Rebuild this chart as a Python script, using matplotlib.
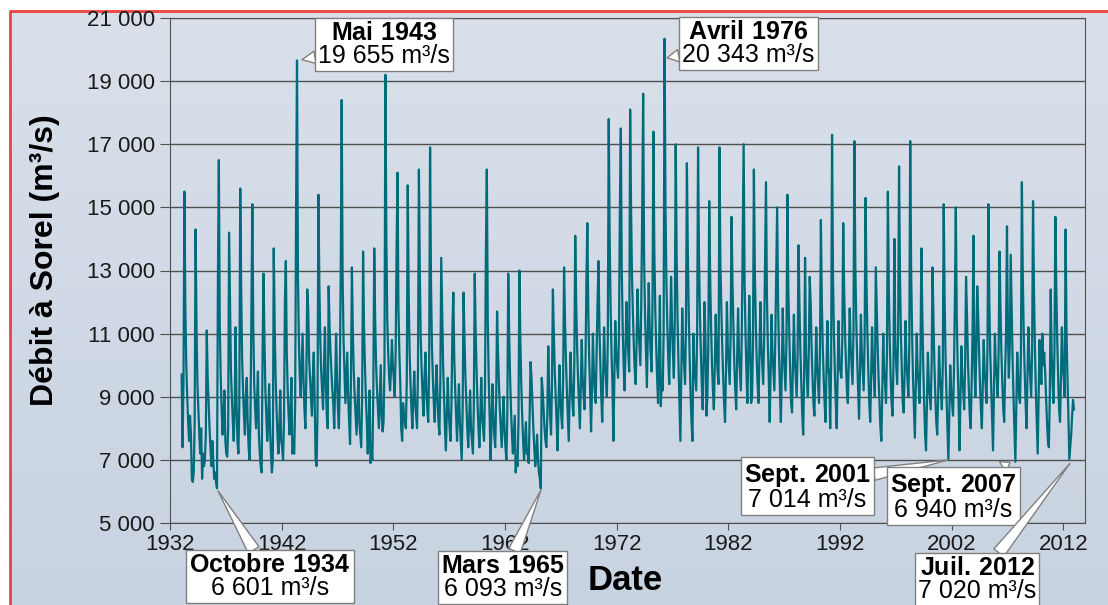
import numpy as np
import matplotlib.pyplot as plt
from matplotlib.colors import LinearSegmentedColormap
from matplotlib.ticker import FuncFormatter

# Monthly flow at Sorel, in hundreds of m3/s (Jan..Dec), one row per year
first_year = 1933
flow_1930s = [  # 1933-1939
    [97, 74, 95, 155, 118, 100, 90, 82, 76, 84, 78, 64],
    [63, 66, 82, 143, 112, 94, 86, 78, 72, 80, 64, 72],
    [68, 70, 78, 111, 96, 88, 80, 74, 68, 76, 70, 64],
    [66, 63, 61, 128, 165, 112, 96, 86, 78, 84, 92, 76],
    [72, 71, 80, 142, 120, 98, 90, 82, 76, 86, 112, 88],
    [76, 72, 88, 156, 124, 102, 92, 84, 78, 90, 96, 82],
    [74, 70, 84, 118, 151, 112, 94, 86, 80, 88, 98, 78],
]
flow_1940s = [
    [72, 68, 66, 104, 129, 108, 92, 84, 76, 82, 94, 80],
    [72, 66, 70, 137, 112, 96, 86, 78, 72, 80, 92, 76],
    [74, 70, 82, 120, 133, 104, 92, 84, 78, 86, 96, 72],
    [74, 72, 88, 150, 196.55, 128, 108, 96, 90, 100, 110, 96],
    [86, 80, 96, 124, 118, 102, 96, 90, 84, 96, 104, 88],
    [70, 68, 84, 154, 126, 108, 98, 92, 86, 100, 112, 94],
    [84, 80, 125, 112, 104, 98, 92, 88, 80, 94, 110, 96],
    [86, 80, 96, 130, 184, 128, 108, 98, 88, 96, 104, 90],
    [82, 75, 96, 131, 110, 98, 90, 84, 78, 88, 96, 82],
    [78, 74, 90, 136, 112, 100, 90, 82, 72, 80, 92, 69],
]
flow_1950s = [
    [72, 70, 92, 137, 114, 100, 92, 86, 80, 90, 100, 84],
    [79, 82, 100, 192, 140, 114, 104, 96, 92, 98, 108, 100],
    [96, 90, 104, 136, 161, 118, 104, 94, 80, 76, 88, 84],
    [82, 80, 96, 157, 122, 104, 94, 86, 80, 90, 98, 88],
    [84, 80, 98, 162, 128, 108, 98, 90, 84, 96, 104, 92],
    [86, 82, 100, 169, 126, 106, 96, 88, 82, 92, 100, 90],
    [82, 78, 94, 134, 116, 100, 90, 80, 73, 84, 96, 86],
    [80, 76, 88, 112, 123, 102, 92, 84, 76, 86, 94, 82],
    [76, 70, 86, 123, 108, 96, 88, 80, 74, 82, 92, 80],
    [76, 72, 86, 129, 110, 98, 88, 80, 74, 84, 96, 84],
]
flow_1960s = [
    [80, 76, 92, 136, 162, 114, 96, 84, 70, 80, 94, 84],
    [78, 74, 88, 117, 104, 94, 86, 80, 74, 82, 90, 80],
    [74, 70, 84, 129, 110, 96, 86, 78, 72, 78, 84, 66],
    [70, 68, 82, 130, 108, 94, 84, 76, 70, 76, 82, 72],
    [72, 69, 84, 101, 96, 88, 80, 74, 68, 72, 78, 70],
    [66, 64, 60.93, 96, 92, 86, 80, 76, 74, 84, 106, 92],
    [84, 78, 94, 124, 110, 98, 90, 82, 73, 86, 100, 90],
    [84, 80, 96, 131, 114, 102, 92, 84, 76, 90, 104, 94],
    [88, 84, 100, 141, 120, 106, 96, 88, 80, 94, 108, 96],
    [90, 86, 100, 126, 145, 118, 102, 92, 79, 92, 110, 98],
]
flow_1970s = [
    [92, 88, 104, 120, 133, 112, 100, 90, 82, 96, 112, 100],
    [96, 90, 108, 178, 140, 118, 104, 94, 76, 96, 114, 104],
    [100, 96, 110, 150, 175, 130, 112, 100, 92, 104, 120, 110],
    [104, 98, 181, 150, 128, 116, 106, 98, 94, 108, 124, 112],
    [106, 100, 120, 150, 186, 134, 116, 104, 93, 110, 126, 112],
    [104, 98, 118, 174, 136, 118, 106, 96, 88, 104, 122, 87],
    [96, 92, 110, 203.43, 150, 126, 112, 102, 94, 110, 128, 114],
    [104, 96, 114, 170, 134, 114, 100, 88, 76, 96, 118, 106],
    [100, 94, 112, 164, 136, 116, 102, 90, 82, 76, 110, 100],
    [96, 92, 110, 169, 134, 116, 104, 94, 86, 102, 120, 108],
]
flow_1980s = [
    [84, 90, 106, 152, 128, 112, 100, 92, 86, 100, 116, 104],
    [98, 94, 169, 132, 118, 106, 96, 88, 82, 98, 120, 106],
    [100, 94, 110, 147, 126, 112, 100, 92, 86, 102, 118, 104],
    [98, 92, 110, 140, 170, 126, 110, 98, 88, 104, 122, 108],
    [88, 90, 106, 162, 130, 114, 102, 94, 88, 104, 120, 106],
    [100, 94, 108, 134, 158, 122, 106, 96, 82, 98, 116, 104],
    [98, 92, 108, 130, 150, 120, 104, 92, 82, 98, 118, 104],
    [98, 92, 108, 154, 124, 110, 98, 88, 85, 100, 116, 102],
    [96, 90, 104, 138, 118, 104, 94, 84, 78, 96, 134, 104],
    [96, 90, 104, 128, 120, 106, 96, 88, 84, 98, 112, 100],
]
flow_1990s = [
    [94, 88, 104, 146, 120, 106, 96, 88, 82, 98, 114, 100],
    [96, 80, 100, 173, 128, 110, 98, 88, 80, 96, 114, 100],
    [98, 96, 108, 145, 124, 110, 100, 92, 88, 102, 118, 106],
    [100, 94, 110, 171, 132, 114, 102, 92, 83, 98, 116, 104],
    [98, 92, 108, 153, 126, 110, 98, 88, 82, 96, 112, 100],
    [96, 90, 131, 118, 106, 96, 88, 80, 76, 92, 110, 98],
    [94, 88, 104, 155, 124, 108, 96, 88, 84, 100, 140, 106],
    [100, 94, 110, 163, 128, 110, 98, 88, 85, 98, 114, 100],
    [96, 90, 106, 171, 130, 110, 96, 86, 77, 94, 110, 98],
    [94, 88, 102, 137, 116, 100, 88, 78, 73, 88, 104, 94],
]
flow_2000s = [  # 2000-2012
    [90, 86, 100, 131, 114, 100, 90, 82, 78, 90, 106, 96],
    [92, 86, 100, 151, 120, 102, 90, 80, 70.14, 84, 100, 92],
    [88, 84, 98, 120, 150, 116, 100, 88, 73, 90, 106, 96],
    [92, 86, 100, 128, 116, 102, 92, 84, 80, 94, 110, 141],
    [100, 90, 104, 125, 116, 104, 94, 86, 80, 94, 108, 98],
    [94, 88, 104, 151, 120, 104, 94, 84, 73, 92, 110, 100],
    [96, 90, 104, 136, 118, 104, 94, 86, 82, 98, 110, 144],
    [110, 96, 106, 135, 118, 102, 90, 80, 69.4, 86, 104, 96],
    [90, 88, 104, 158, 128, 110, 98, 88, 80, 96, 112, 102],
    [96, 90, 104, 152, 124, 106, 92, 82, 72, 90, 108, 98],
    [94, 110, 100, 104, 98, 90, 82, 76, 74, 90, 124, 104],
    [94, 88, 104, 147, 124, 108, 96, 86, 82, 96, 112, 100],
    [96, 90, 143, 110, 96, 84, 70.2, 74, 78, 84, 89, 86],
]

# Callouts: event, flow text, and the point they mark (year, m3/s)
event_names = ['Mai 1943', 'Avril 1976', 'Octobre 1934', 'Mars 1965',
               'Sept. 2001', 'Sept. 2007', 'Juil. 2012']
event_flows = ['19 655 m³/s', '20 343 m³/s', '6 601 m³/s', '6 093 m³/s',
               '7 014 m³/s', '6 940 m³/s', '7 020 m³/s']
event_x = [1943.82, 1976.51, 1936.3, 1965.23, 2001.68, 2007.23, 2012.6]
event_y = [19680, 19740, 6020, 6050, 7000, 6920, 6890]
# label box centres (year, m3/s) - layout only
box_pos = [(1951.2, 20150), (1983.8, 20190), (1940.95, 3290), (1961.8, 3260),
           (1989.05, 6140), (2002.17, 5810), (2004.3, 3200)]

flow = np.concatenate([flow_1930s, flow_1940s, flow_1950s, flow_1960s,
                       flow_1970s, flow_1980s, flow_1990s, flow_2000s]).ravel() * 100
dates = first_year + (np.arange(len(flow)) + 0.5) / 12

plt.rcParams['font.family'] = ['Liberation Sans', 'DejaVu Sans']
plt.rcParams['mathtext.fontset'] = 'custom'
plt.rcParams['mathtext.rm'] = 'Liberation Sans'
plt.rcParams['mathtext.bf'] = 'Liberation Sans:bold'

W, H = 1108, 605
fig = plt.figure(figsize=(W / 100, H / 100), dpi=100)
fig.patch.set_facecolor('white')

# gradient panel with red frame
bg = fig.add_axes([0, 0, 1, 1], zorder=-10)
cmap = LinearSegmentedColormap.from_list('bg', ['#d9e0ea', '#c8d3e1'])
bg.imshow(np.linspace(0, 1, 256).reshape(-1, 1), cmap=cmap, aspect='auto',
          extent=[10 / W, 1, 0, 1 - 11 / H])
bg.plot([10 / W, 10 / W, 1], [0, 1 - 11 / H, 1 - 11 / H], color='#f04040', lw=2)
bg.set_xlim(0, 1)
bg.set_ylim(0, 1)
bg.axis('off')

ax = fig.add_axes([170 / W, 1 - 523 / H, 915 / W, 505 / H])
ax.patch.set_alpha(0)
ax.plot(dates, flow, color='#006b7a', lw=1.6)

ax.set_xlim(1932, 1932 + 915 / 11.166)
ax.set_ylim(5000, 21000)
ax.set_xticks(range(1932, 2013, 10))
ax.set_yticks(range(5000, 21001, 2000))
ax.yaxis.set_major_formatter(FuncFormatter(lambda v, p: f'{int(v):,}'.replace(',', ' ')))
ax.grid(axis='y', color='#505050', lw=1)
ax.set_axisbelow(True)
for s in ax.spines.values():
    s.set_color('#505050')
ax.tick_params(axis='y', length=7, color='#505050', labelsize=16, labelcolor='#1a1a1a', pad=4)
ax.tick_params(axis='x', length=5, color='#505050', labelsize=16, labelcolor='#1a1a1a', pad=3)

fig.text(45 / W, 1 - 260 / H, 'Débit à Sorel (m³/s)', rotation=90, ha='center', va='center',
         fontsize=23, fontweight='bold')
fig.text(625 / W, 1 - 580 / H, 'Date', ha='center', va='center', fontsize=25, fontweight='bold')

for name, val, x, y, (bx, by) in zip(event_names, event_flows, event_x, event_y, box_pos):
    # mathtext puts a thin space after '.', cancel it with \!
    head = name.replace(' ', r'\ ').replace(r'.\ ', r'.\!\ ')
    label = r'$\bf{' + head + '}$\n' + val
    ax.annotate(label, xy=(x, y), xytext=(bx, by), ha='center', va='center',
                fontsize=18, linespacing=0.95, annotation_clip=False, zorder=5,
                bbox=dict(boxstyle='square,pad=0.12', fc='white', ec='#808080', lw=1),
                arrowprops=dict(arrowstyle='wedge,tail_width=0.5', fc='white',
                                ec='#808080', lw=1, shrinkA=0, shrinkB=0))

plt.savefig('out.png', dpi=100)
